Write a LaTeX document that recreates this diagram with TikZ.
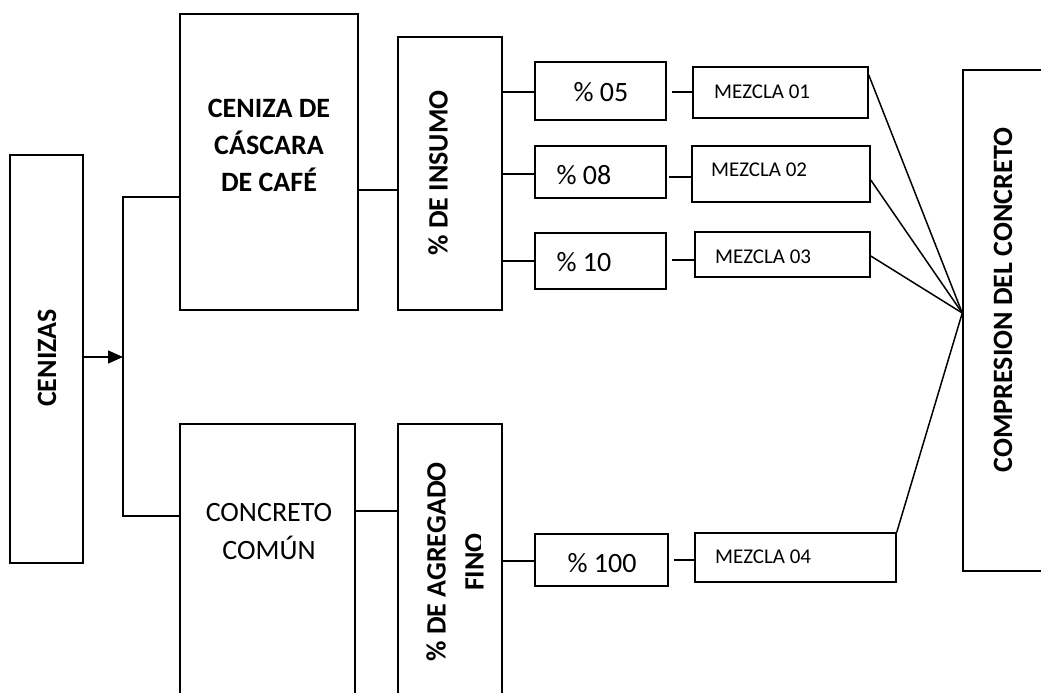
\documentclass[tikz,border=0pt]{standalone}
\usepackage{fontspec}
\setmainfont{Carlito}
\usetikzlibrary{arrows.meta,fit}
\begin{document}
\begin{tikzpicture}[x=1pt,y=-1pt,
  box/.style={draw,line width=1.5pt,inner sep=0pt},
  con/.style={line width=1.5pt},
  bt/.style={font=\fontsize{28}{37}\selectfont\bfseries,align=center,inner sep=0pt},
  rt/.style={font=\fontsize{28}{38}\selectfont,align=center,inner sep=0pt},
  mt/.style={font=\fontsize{21}{25}\selectfont,inner sep=0pt,anchor=west},
  tip/.style={-{Triangle[length=15pt,width=13pt]}}
]
\clip (0,0) rectangle (1041,693);
% left box
\node[box,fit={(10,155)(83,563)}] (cen) {};
\node[bt,rotate=90] (cent) at (47,358) {CENIZAS};
% upper branch
\node[box,fit={(180,14)(358,310)}] (cc) {};
\node[bt] (cct) at (269,145) {CENIZA DE\\CÁSCARA\\DE CAFÉ};
\node[box,fit={(398,37)(502,310)}] (ins) {};
\node[bt,rotate=90] (inst) at (438,173) {\% DE INSUMO};
% lower branch
\node[box,fit={(180,424)(355,710)}] (cb) {};
\node[rt] (cbt) at (269,532) {CONCRETO\\COMÚN};
\node[box,fit={(398,424)(502,710)}] (ag) {};
\begin{scope}
  \clip (398,424) -- (480,424) -- (480,549) -- (502,549) -- (502,710) -- (398,710) -- cycle;
  \node[bt,rotate=90,font=\fontsize{28}{38}\selectfont\bfseries] (agt) at (455,562) {\% DE AGREGADO\\FINO};
\end{scope}
% percent boxes
\node[box,fit={(535,62)(666,120)}] (p05) {};
\node[rt] (p05t) at (601,92) {\% 05};
\node[box,fit={(535,146)(666,198)}] (p08) {};
\node[rt] (p08t) at (584,175) {\% 08};
\node[box,fit={(535,233)(666,289)}] (p10) {};
\node[rt] (p10t) at (584,262) {\% 10};
\node[box,fit={(535,534)(668,586)}] (p100) {};
\node[rt] (p100t) at (602,563) {\% 100};
% mezcla boxes
\node[box,fit={(693,67)(868,118)}] (m1) {};
\node[mt] (m1t) at (714,92) {MEZCLA 01};
\node[box,fit={(692,146)(870,202)}] (m2) {};
\node[mt] (m2t) at (711,170) {MEZCLA 02};
\node[box,fit={(695,232)(870,277)}] (m3) {};
\node[mt] (m3t) at (715,257) {MEZCLA 03};
\node[box,fit={(695,533)(896,582)}] (m4) {};
\node[mt] (m4t) at (715,557) {MEZCLA 04};
% right box
\node[box,fit={(963,70)(1046,571)}] (comp) {};
\node[bt,rotate=90] (compt) at (1003,300) {COMPRESION DEL CONCRETO};
% connectors
\coordinate (jt) at (123,197);
\coordinate (jb) at (123,516);
\coordinate (jm) at (123,357);
\draw[con,tip] (cen.east |- jm) -- (jm);
\draw[con] (cc.west |- jt) -- (jt) -- (jb) -- (cb.west |- jb);
\draw[con] (cc.east |- 0,190) -- (ins.west |- 0,190);
\draw[con] (ins.east |- 0,92) -- (p05.west |- 0,92);
\draw[con] (ins.east |- 0,174) -- (p08.west |- 0,174);
\draw[con] (ins.east |- 0,261) -- (p10.west |- 0,261);
\draw[con] (cb.east |- 0,511) -- (ag.west |- 0,511);
\draw[con] (ag.east |- 0,561) -- (p100.west |- 0,561);
\draw[con,shorten <=5pt] (p05.east |- 0,92) -- (m1.west |- 0,92);
\draw[con,shorten <=2pt] (p08.east |- 0,177) -- (m2.west |- 0,177);
\draw[con,shorten <=5pt] (p10.east |- 0,260) -- (m3.west |- 0,260);
\draw[con,shorten <=5pt] (p100.east |- 0,560) -- (m4.west |- 0,560);
\coordinate (conv) at (comp.west |- 0,313);
\draw[con] (m1.east |- 0,75) -- (conv);
\draw[con] (m2.east |- 0,180) -- (conv);
\draw[con] (m3.east |- 0,256) -- (conv);
\draw[con] (m4.north east) -- (conv);
\end{tikzpicture}
\end{document}
